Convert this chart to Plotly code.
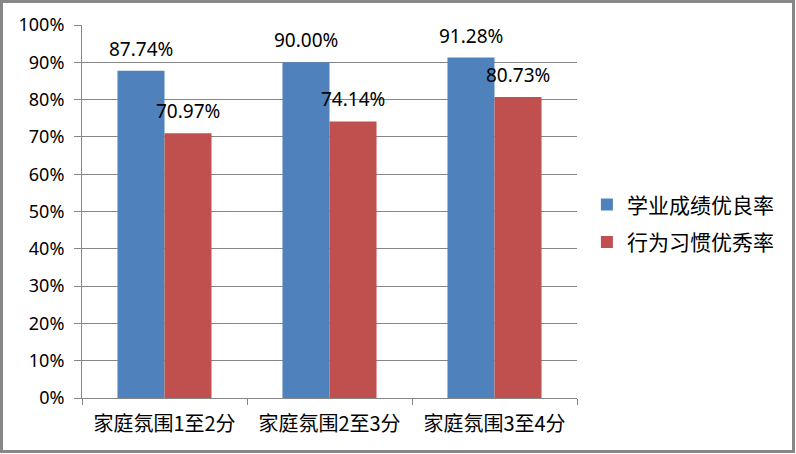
import plotly.graph_objects as go

categories = ["家庭氛围1至2分", "家庭氛围2至3分", "家庭氛围3至4分"]
academic = [87.74, 90.00, 91.28]
behavior = [70.97, 74.14, 80.73]
series_names = ["学业成绩优良率", "行为习惯优秀率"]

FONT = "Noto Sans CJK SC, Noto Sans, sans-serif"
NUMFONT = "Noto Sans, sans-serif"
BARGAP = 0.43

fig = go.Figure()
fig.add_trace(go.Bar(
    x=categories, y=academic, name=series_names[0],
    marker=dict(color="#4F81BD", line=dict(width=0)),
    legendgroup="a", hoverinfo="skip",
))
fig.add_trace(go.Bar(
    x=categories, y=behavior, name=series_names[1],
    marker=dict(color="#C0504D", line=dict(width=0)),
    legendgroup="b", hoverinfo="skip",
))

# data labels placed above each bar via the category axis scale
half = (1 - BARGAP) / 4
annotations = []
for series, off in ((academic, -half), (behavior, half)):
    for i, v in enumerate(series):
        annotations.append(dict(
            x=i + off, y=v, xref="x", yref="y", text=f"{v:.2f}%",
            showarrow=False, yanchor="bottom", xanchor="center", yshift=7,
            font=dict(size=19, family=NUMFONT, color="#000000"),
        ))

fig.update_layout(
    width=796, height=454,
    margin=dict(l=82, r=219, t=25, b=56),
    paper_bgcolor="white", plot_bgcolor="white",
    barmode="group", bargap=BARGAP, bargroupgap=0,
    font=dict(family=FONT, size=18, color="#000000"),
    showlegend=True,
    legend=dict(x=1.02, y=0.468, xanchor="left", yanchor="middle",
                font=dict(size=21, family=FONT), tracegroupgap=7,
                traceorder="grouped"),
    annotations=annotations,
    shapes=[dict(type="rect", xref="paper", yref="paper",
                 x0=-80.5/495, x1=1+216.5/495, y0=-53.5/373, y1=1+23.5/373,
                 line=dict(color="#878787", width=3), fillcolor="rgba(0,0,0,0)")],
)
fig.update_xaxes(
    showline=True, linecolor="#868686", linewidth=1,
    ticks="outside", ticklen=6, tickcolor="#868686",
    tickson="boundaries", showgrid=False, ticklabelstandoff=8,
    tickfont=dict(size=20, family=FONT),
)
fig.update_yaxes(
    range=[0, 100], dtick=10, ticksuffix="%",
    showline=True, linecolor="#868686", linewidth=1,
    ticks="outside", ticklen=7, tickcolor="#868686",
    showgrid=True, gridcolor="#868686", gridwidth=1,
    zeroline=False, ticklabelstandoff=6,
    tickfont=dict(size=18, family=NUMFONT),
)

fig.write_html("out.html", config={"displayModeBar": False},
               post_script="document.body.style.margin='0';document.body.style.overflow='hidden';")
